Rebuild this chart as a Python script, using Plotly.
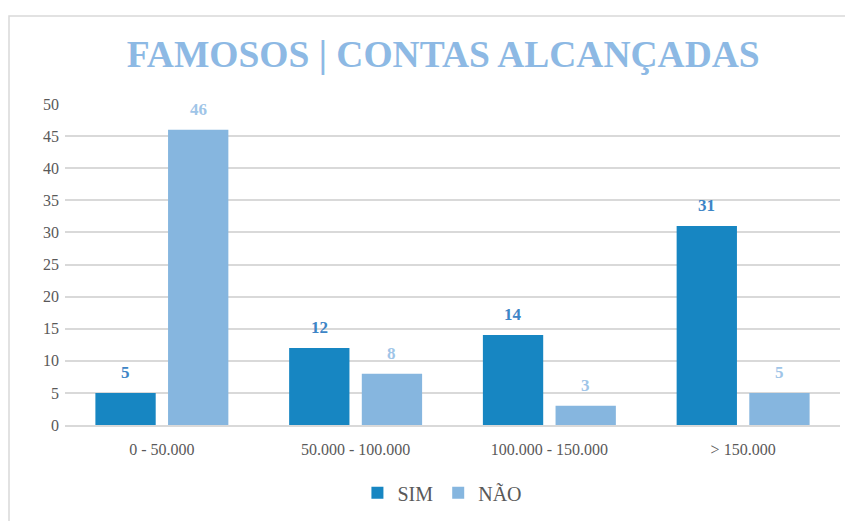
import plotly.graph_objects as go

categories = ["0 - 50.000", "50.000 - 100.000", "100.000 - 150.000", "> 150.000"]
sim_values = [5, 12, 14, 31]
nao_values = [46, 8, 3, 5]
y_ticks = [0, 5, 10, 15, 20, 25, 30, 35, 40, 45, 50]

font_family = "Liberation Serif, Times New Roman, serif"

# page body has an 8px margin, so the figure is sized/placed to compensate
W, H = 845, 513
ML, MR, MT, MB = 57, 13, 96, 96
BARGAP, GROUPGAP = 0.25, 0.17

fig = go.Figure()
fig.add_trace(go.Bar(
    name="SIM", x=categories, y=sim_values,
    marker=dict(color="#1786c2", line=dict(width=0)),
))
fig.add_trace(go.Bar(
    name="NÃO", x=categories, y=nao_values,
    marker=dict(color="#86b6df", line=dict(width=0)),
))

plot_w = W - ML - MR
plot_h = H - MT - MB
slot = plot_w / len(categories)
offset = slot * (1 - BARGAP) / 4
annotations = []
for vals, sign, col in ((sim_values, -1, "#3d85c6"), (nao_values, 1, "#9fc5e8")):
    for c, v in zip(categories, vals):
        annotations.append(dict(
            x=c, y=v, xref="x", yref="y", text=f"<b>{v}</b>", showarrow=False,
            xshift=sign * offset, yshift=9, yanchor="bottom",
            font=dict(family=font_family, size=17, color=col),
        ))

fig.update_layout(
    width=W, height=H,
    margin=dict(l=ML, r=MR, t=MT, b=MB, autoexpand=False),
    paper_bgcolor="white", plot_bgcolor="white",
    barmode="group", bargap=BARGAP, bargroupgap=GROUPGAP,
    title=dict(text="FAMOSOS | CONTAS ALCANÇADAS", x=0.515, xanchor="center",
               y=0.91, yanchor="middle", yref="container",
               font=dict(family=font_family, size=37.5, color="#8db9e4", weight="bold")),
    font=dict(family=font_family, size=16, color="#595959"),
    showlegend=True,
    legend=dict(orientation="h", x=0.487, xanchor="center", y=0.055, yanchor="middle",
                yref="container",
                font=dict(family=font_family, size=20, color="#595959"),
                itemwidth=30, tracegroupgap=0),
    annotations=annotations,
    xaxis=dict(showline=True, linecolor="#d9d9d9", linewidth=1.5, ticks="",
               automargin=False, ticklabelstandoff=9,
               tickfont=dict(family=font_family, size=16, color="#595959")),
    yaxis=dict(range=[0, 50], tickvals=y_ticks, showgrid=True, gridcolor="#d9d9d9",
               gridwidth=1.5, zeroline=False, ticks="", automargin=False,
               ticklabelstandoff=5,
               tickfont=dict(family=font_family, size=16, color="#595959")),
    shapes=[dict(type="rect", xref="paper", yref="paper",
                 x0=(1 - ML) / plot_w, x1=1.2,
                 y0=-0.5, y1=1 + (MT - 8) / plot_h,
                 line=dict(color="#d9d9d9", width=1.5), fillcolor="rgba(0,0,0,0)",
                 layer="below")],
)

fig.write_html("out.html")
